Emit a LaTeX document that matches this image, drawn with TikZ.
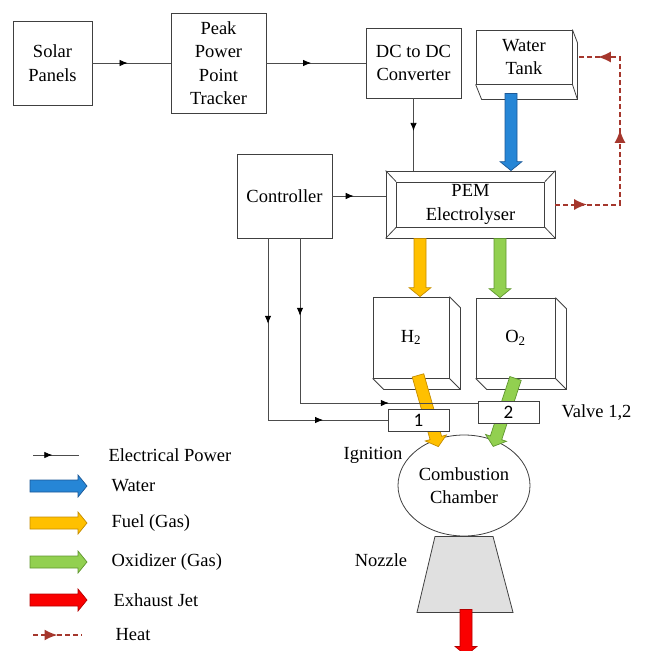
\documentclass[tikz,border=0pt]{standalone}
\usepackage{fontspec}
\setmainfont{Liberation Serif}
\newfontfamily\valvefont{Carlito}
\usetikzlibrary{arrows.meta, calc, shapes.geometric, decorations.markings}

\definecolor{waterblue}{RGB}{38,134,214}
\definecolor{waterline}{RGB}{28,88,150}
\definecolor{fuelyellow}{RGB}{255,192,0}
\definecolor{fuelline}{RGB}{196,140,0}
\definecolor{oxgreen}{RGB}{146,208,80}
\definecolor{oxline}{RGB}{96,150,48}
\definecolor{jetred}{RGB}{250,0,0}
\definecolor{jetline}{RGB}{180,0,0}
\definecolor{heatred}{RGB}{165,55,45}

\newcommand{\figfont}{\rmfamily\fontsize{18.5}{23.5}\selectfont}
\newcommand{\shaftw}{6pt}
\newcommand{\headw}{11pt}
\newcommand{\headl}{9pt}
% fat block arrow from #2 to #3, look given by style #1
\newcommand{\fatarrow}[3]{%
  \draw[flow,#1] ($(#2)!\shaftw!90:(#3)$)
    -- ($($(#3)!\headl!(#2)$)!\shaftw!90:(#3)$)
    -- ($($(#3)!\headl!(#2)$)!\headw!90:(#3)$)
    -- (#3)
    -- ($($(#3)!\headl!(#2)$)!\headw!-90:(#3)$)
    -- ($($(#3)!\headl!(#2)$)!\shaftw!-90:(#3)$)
    -- ($(#2)!\shaftw!-90:(#3)$) -- cycle;}

\tikzset{
  box/.style={rectangle, draw=black!75, line width=0.8pt, align=center, inner sep=0pt},
  valve/.style={box, fill=white, font=\valvefont\fontsize{19}{22}\selectfont},
  boxline/.style={draw=black!75, line width=0.8pt},
  wire/.style={draw=black!70, line width=0.8pt},
  elec/.style={wire, postaction={decorate, decoration={markings,
      mark=at position #1 with {\arrow[black]{Latex[length=8pt,width=6.5pt]}}}}},
  elec/.default=0.5,
  heat/.style={draw=heatred, line width=2pt, dash pattern=on 5pt off 3pt},
  heattip/.style={postaction={decorate, decoration={markings,
      mark=at position #1 with {\arrow[heatred]{Latex[length=13pt,width=11pt]}}}}},
  flow/.style={line width=0.7pt, line join=miter},
  water/.style={fill=waterblue, draw=waterline},
  fuel/.style={fill=fuelyellow, draw=fuelline},
  oxid/.style={fill=oxgreen, draw=oxline},
  jet/.style={fill=jetred, draw=jetline}
}

\begin{document}
\begin{tikzpicture}[x=1pt, y=-1pt, every node/.style={font=\figfont}]
  \useasboundingbox (0,0) rectangle (646,651);

  % top row
  \node[box, minimum width=79pt, minimum height=84pt] (solar) at (52.5,63) {Solar\\Panels};
  \node[box, minimum width=95pt, minimum height=100pt] (pppt) at (218.5,63) {Peak\\Power\\Point\\Tracker};
  \node[box, minimum width=95pt, minimum height=70pt] (dcdc) at (413.5,63) {DC to DC\\Converter};
  \node[box, minimum width=96pt, minimum height=54pt] (tank) at (524,57) {Water\\Tank};
  \draw[boxline] (tank.north east) -- ++(5,13) |- ([shift={(6pt,-15pt)}]tank.south west) -- (tank.south west);
  \draw[boxline] (tank.south east) -- ++(5,15);

  % electrolyser and controller
  \node[box, minimum width=169pt, minimum height=67pt] (pem) at (470.5,204.5) {};
  \node[box, minimum width=148pt, minimum height=45pt] (pemin) at (pem.center) {PEM\\Electrolyser};
  \foreach \c in {north west, north east, south west, south east}
    \draw[boxline] (pem.\c) -- (pemin.\c);
  \node[box, minimum width=95pt, minimum height=84pt] (ctrl) at (284.5,196) {Controller};

  % gas tanks
  \node[box, minimum width=76pt, minimum height=81pt] (htank) at (411,337.5) {H\textsubscript{2}};
  \node[box, minimum width=79pt, minimum height=80pt] (otank) at (515.5,338) {O\textsubscript{2}};
  \foreach \t in {htank, otank} {
    \draw[boxline] (\t.north east) -- ++(11,11) |- ([shift={(11pt,-11pt)}]\t.south west) -- (\t.south west);
    \draw[boxline] (\t.south east) -- ++(11,11);
  }

  % chamber and nozzle
  \node[ellipse, draw=black!75, line width=0.8pt, minimum width=132pt, minimum height=101pt,
        inner sep=0pt, align=center] (comb) at (464,485.5) {Combustion\\Chamber};
  \draw[boxline, fill=black!12] ([xshift=-29pt]comb.south) -- ([xshift=29pt]comb.south)
    -- ++(20,76) -- ++(-96,0) -- cycle;
  \coordinate (nzb) at ([shift={(2pt,-73pt)}]comb.south);
  \node (ign) at (373,455) {Ignition};
  \node (nozlabel) at (381,560) {Nozzle};

  % flows
  \coordinate (ws) at ([shift={(-13pt,-9pt)}]tank.south);
  \fatarrow{water}{ws}{ws |- pem.north}
  \coordinate (fs) at ([xshift=-50.5pt]pem.south);
  \fatarrow{fuel}{fs}{fs |- htank.north}
  \coordinate (os) at ([xshift=29.5pt]pem.south);
  \fatarrow{oxid}{os}{os |- otank.north}
  \coordinate (hs) at ([shift={(7pt,3pt)}]htank.south);
  \coordinate (he) at ([shift={(3pt,-7pt)}]comb.122);
  \fatarrow{fuel}{hs}{he}
  \coordinate (oe) at ([shift={(-4pt,-5pt)}]comb.53);
  \fatarrow{oxid}{otank.south}{oe}
  \coordinate (je) at ([yshift=-46pt]nzb);
  \fatarrow{jet}{nzb}{je}

  % valves
  \node[valve, minimum width=61pt, minimum height=22pt] (v1) at (418.5,420) {1};
  \node[valve, minimum width=61pt, minimum height=22pt] (v2) at (508.5,412) {2};
  \node[anchor=west] (vlabel) at (558,412) {Valve 1,2};

  % electrical power
  \draw[elec=0.45] (solar) -- (pppt);
  \draw[elec=0.45] (pppt) -- (dcdc);
  \draw[elec=0.45] (dcdc) -- (dcdc |- pem.north);
  \draw[elec=0.4] (ctrl) -- (ctrl -| pem.west);
  \coordinate (k1) at (268,420);
  \coordinate (k2) at (300,403);
  \draw[elec=0.47] (k1 |- ctrl.south) -- (k1);
  \draw[elec=0.46] (k1) -- (v1);
  \draw[elec=0.47] (k2 |- ctrl.south) -- (k2);
  \draw[elec=0.5] (k2) -- (k2 -| v2.west);

  % heat
  \coordinate (hc1) at (620,204.5);
  \coordinate (hc2) at (620,57);
  \draw[heat, heattip=0.125, heattip=0.547, heattip=0.92] (pem.east) -- (hc1) -- (hc2) -- ([xshift=5pt]tank.east);

  % legend
  \coordinate (le1) at (33,455);  \coordinate (le2) at (79,455);
  \draw[elec=0.42] (le1) -- (le2);
  \coordinate (lw1) at (30,486);  \coordinate (lw2) at (87,486);
  \fatarrow{water}{lw1}{lw2}
  \coordinate (lf1) at (30,523);  \coordinate (lf2) at (87,523);
  \fatarrow{fuel}{lf1}{lf2}
  \coordinate (lo1) at (30,562);  \coordinate (lo2) at (87,562);
  \fatarrow{oxid}{lo1}{lo2}
  \coordinate (lj1) at (30,600);  \coordinate (lj2) at (87,600);
  \fatarrow{jet}{lj1}{lj2}
  \coordinate (lh1) at (33,635);  \coordinate (lh2) at (82,635);
  \draw[heat, heattip=0.5] (lh1) -- (lh2);
  \foreach \x/\y/\txt in {105/455/Electrical Power, 108/486/Water, 108/523/Fuel (Gas),
                          108/562/Oxidizer (Gas), 110/600/Exhaust Jet, 112/635/Heat}
    \node[anchor=west] (lg\y) at (\x,\y) {\txt};
\end{tikzpicture}
\end{document}
